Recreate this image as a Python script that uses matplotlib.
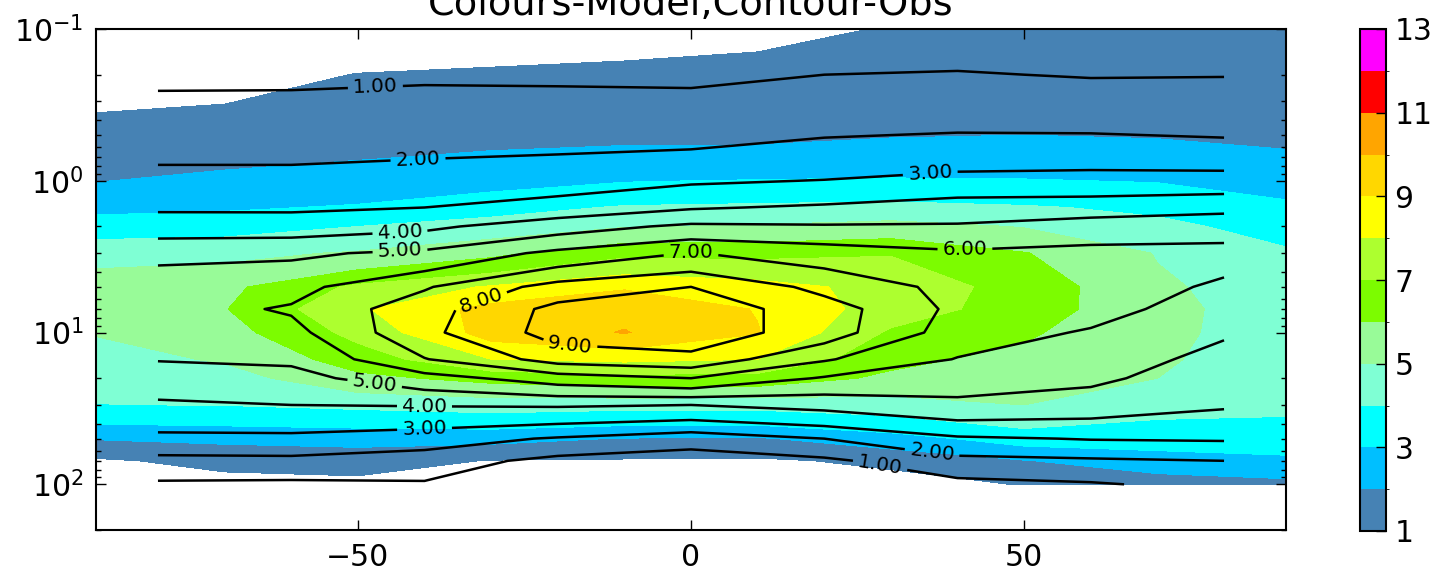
import numpy as np
import matplotlib
matplotlib.use("Agg")
import matplotlib.pyplot as plt
from matplotlib.colors import ListedColormap, BoundaryNorm

# pressure levels (hPa), shared by model and obs
plev = [0.1, 0.2, 0.3, 0.5, 0.7, 1, 1.5, 2, 3, 5, 7, 10, 15, 20, 30, 50, 70, 100]

# model (filled) - one row per latitude
lat_model = [-89.3, -70, -50, -30, -10, 10, 30, 50, 70, 89.3]
model = [
    [0.5, 0.55, 0.87, 1.33, 1.65, 1.97, 2.75, 3.45, 4.7, 5.45, 5.55, 5.05, 4.65, 4.35, 3.98, 2.05, 0.85, 0.3],
    [0.3, 0.6, 0.97, 1.45, 1.8, 2.2, 2.87, 3.6, 4.75, 5.75, 5.95, 5.6, 5.1, 4.6, 4.02, 2.2, 1.3, 0.6],
    [0.35, 1.03, 1.3, 1.7, 1.95, 2.4, 3.1, 4.0, 5.1, 7.2, 7.85, 7.3, 6.45, 5.75, 4.2, 2.3, 1.45, 0.7],
    [0.45, 1.15, 1.45, 1.8, 2.1, 2.65, 3.6, 4.45, 5.75, 8.1, 9.35, 9.4, 8.0, 6.3, 4.4, 2.3, 0.95, 0.4],
    [0.5, 1.3, 1.5, 1.85, 2.2, 2.95, 4.1, 4.95, 6.75, 8.9, 9.75, 10.05, 8.2, 6.65, 4.3, 1.95, 0.9, 0.35],
    [0.75, 1.35, 1.6, 1.9, 2.15, 3.05, 4.2, 5.1, 6.75, 8.4, 8.95, 9.05, 8.0, 6.6, 4.3, 1.9, 0.85, 0.35],
    [1.05, 1.45, 1.7, 1.95, 2.4, 3.1, 4.3, 5.35, 6.95, 7.65, 7.5, 6.85, 6.25, 5.8, 4.5, 2.6, 1.2, 0.6],
    [1.3, 1.6, 1.8, 2.0, 2.5, 3.05, 4.1, 4.95, 6.05, 6.6, 6.55, 6.15, 5.7, 5.4, 5.0, 3.45, 1.95, 1.05],
    [1.5, 1.7, 1.85, 1.95, 2.3, 2.95, 3.8, 4.25, 4.95, 5.15, 5.2, 5.15, 5.1, 5.0, 4.35, 3.4, 2.6, 1.4],
    [1.5, 1.62, 1.72, 1.85, 2.1, 2.6, 3.2, 3.6, 4.15, 4.5, 4.65, 4.7, 4.6, 4.45, 4.2, 3.5, 2.8, 1.7],
]

# observations (contour lines) - one row per latitude
lat_obs = [-80, -60, -40, -20, 0, 20, 40, 60, 80]
obs = [
    [0.5, 0.8, 1.16, 1.59, 1.88, 2.3, 2.87, 3.46, 4.8, 5.45, 5.6, 5.5, 5.05, 4.5, 3.85, 2.75, 1.7, 0.85],
    [0.5, 0.82, 1.16, 1.59, 1.88, 2.3, 2.85, 3.5, 4.85, 5.7, 6.1, 5.7, 5.15, 4.7, 4.0, 2.75, 1.75, 0.8],
    [0.55, 0.88, 1.23, 1.67, 1.97, 2.45, 3.0, 3.8, 5.2, 6.9, 7.6, 7.75, 6.95, 5.6, 4.05, 2.45, 1.5, 0.9],
    [0.55, 0.85, 1.24, 1.71, 2.05, 2.55, 3.4, 4.55, 6.25, 8.4, 9.3, 9.4, 8.4, 6.5, 4.1, 1.9, 0.7, 0.3],
    [0.5, 0.82, 1.22, 1.74, 2.17, 2.88, 3.9, 5.2, 7.05, 9.0, 9.6, 9.6, 8.7, 7.0, 4.0, 1.4, 0.5, 0.2],
    [0.6, 1.0, 1.42, 1.95, 2.45, 3.03, 4.15, 5.1, 6.55, 7.7, 8.5, 8.5, 7.1, 5.9, 4.3, 2.0, 0.8, 0.4],
    [0.6, 1.05, 1.5, 2.05, 2.6, 3.3, 4.5, 5.1, 6.15, 6.7, 6.75, 6.5, 5.95, 5.5, 4.75, 2.85, 1.7, 0.7],
    [0.55, 0.95, 1.43, 2.04, 2.65, 3.35, 4.55, 5.45, 6.3, 6.5, 6.35, 5.9, 5.5, 5.2, 4.5, 3.05, 1.85, 0.9],
    [0.55, 0.97, 1.4, 1.94, 2.55, 3.4, 4.75, 5.6, 6.3, 5.85, 5.5, 5.1, 4.7, 4.45, 4.1, 3.1, 2.0, 1.3],
]

levels = np.arange(1, 14)
colours = ["steelblue", "deepskyblue", "cyan", "aquamarine", "palegreen", "lawngreen",
           "greenyellow", "yellow", "gold", "orange", "red", "magenta"]
cbar_ticks = [1, 3, 5, 7, 9, 11, 13]

cmap = ListedColormap(colours)
norm = BoundaryNorm(levels, cmap.N)

fig = plt.figure(figsize=(14.48, 5.75), dpi=100)
ax = fig.add_axes([96 / 1448, 1 - 530 / 575, 1190 / 1448, 501 / 575])
cax = fig.add_axes([1360 / 1448, 1 - 531 / 575, 26 / 1448, 502 / 575])

cf = ax.contourf(lat_model, plev, np.array(model).T, levels=levels, cmap=cmap, norm=norm)
cs = ax.contour(lat_obs, plev, np.array(obs).T, levels=levels, colors="k", linewidths=1.8)

ax.set_yscale("log")
ax.set_ylim(200, 0.1)
ax.set_xlim(lat_model[0], lat_model[-1])
ax.set_xticks([-50, 0, 50])

label_pos = [(-47.4, 0.223), (-41, 0.675), (35.9, 0.885), (-43.7, 2.1), (-43.7, 2.72),
             (0, 2.98), (41.1, 2.76), (-32, 5.37), (-18.2, 12.9), (-47.4, 20.4),
             (-40, 31.1), (-40, 42.2), (36.2, 60.6), (28.4, 73.8)]
ax.clabel(cs, fmt="%.2f", fontsize=14.5, manual=label_pos)

ax.set_title("Colours-Model,Contour-Obs", fontsize=27.5, pad=10)

for a in (ax, cax):
    for s in a.spines.values():
        s.set_linewidth(1.5)

ax.tick_params(which="both", direction="in", top=True, right=True, labelsize=21.5, pad=9)
ax.tick_params(which="major", length=7.2, width=1)
ax.tick_params(which="minor", length=3.6, width=1)

cb = fig.colorbar(cf, cax=cax, ticks=cbar_ticks)
cb.outline.set_linewidth(1.5)
cb.ax.tick_params(direction="in", length=7.2, width=1, labelsize=21.5, pad=6)
cb.ax.set_yticklabels([str(t) for t in cbar_ticks])

fig.savefig("out.png", dpi=100)
